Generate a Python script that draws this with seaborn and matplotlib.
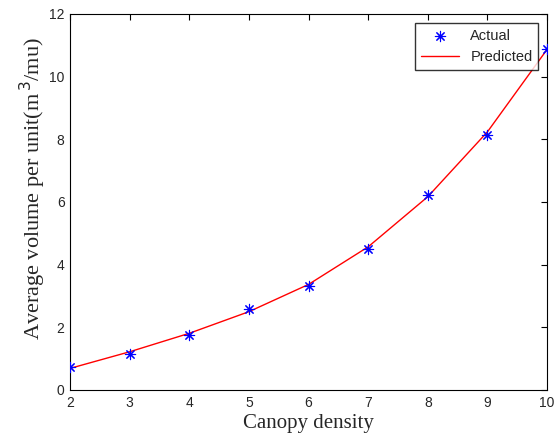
import numpy as np
import pandas as pd
import seaborn as sns
import matplotlib.pyplot as plt

# canopy density vs average volume per unit
density = [2, 3, 4, 5, 6, 7, 8, 9, 10]
actual = [0.72, 1.15, 1.74, 2.57, 3.32, 4.51, 6.23, 8.15, 10.87]
predicted = [0.69, 1.22, 1.81, 2.50, 3.37, 4.57, 6.17, 8.24, 10.87]

df = pd.DataFrame({"density": density, "actual": actual, "predicted": predicted})

sns.set_style("white")
plt.rcParams["font.family"] = ["Liberation Sans", "DejaVu Sans"]

fig = plt.figure(figsize=(5.56, 4.45), dpi=100)
ax = fig.add_axes([0.126, 0.1236, 0.858, 0.845])

sns.scatterplot(data=df, x="density", y="actual", marker=(8, 2, 0), color="blue",
                s=55, linewidth=0.8, edgecolor="blue", label="Actual", ax=ax, zorder=3)
sns.lineplot(data=df, x="density", y="predicted", color="red", linewidth=1.0,
             label="Predicted", ax=ax, zorder=2)

ax.set_xlim(2, 10)
ax.set_ylim(0, 12)
ax.set_xticks(range(2, 11))
ax.set_yticks(range(0, 13, 2))
ax.tick_params(direction="in", length=4, width=0.8, top=True, right=True,
               labelsize=10, color="black", pad=4)
for sp in ax.spines.values():
    sp.set_color("black")
    sp.set_linewidth(0.8)

ax.set_xlabel("Canopy density", family="Liberation Serif", fontsize=15, labelpad=3)
ax.set_ylabel("Average volume per unit(m$^{\\,3}$/mu)", family="Liberation Serif",
              fontsize=16)
ax.yaxis.set_label_coords(-0.047, 0.535)

leg = ax.legend(loc="upper right", fontsize=10.5, frameon=True, fancybox=False,
                edgecolor="black", borderaxespad=0.6, handlelength=2.6)
leg.get_frame().set_linewidth(1.0)

fig.savefig("out.png", dpi=100)
